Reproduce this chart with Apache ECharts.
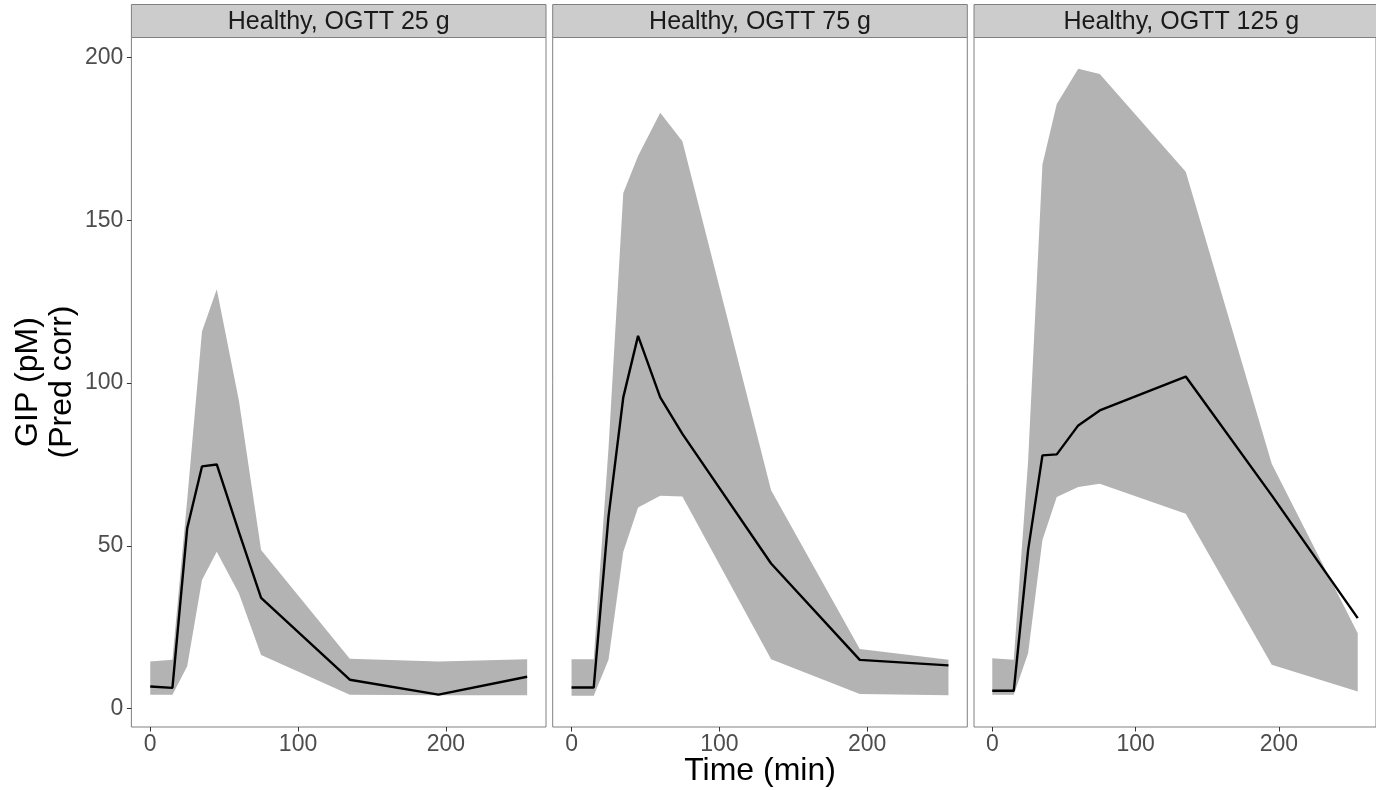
<!DOCTYPE html>
<html><head><meta charset="utf-8">
<script src="https://cdn.jsdelivr.net/npm/echarts@6/dist/echarts.min.js"></script>
<style>html,body{margin:0;padding:0;background:#fff}#chart{width:1376px;height:790px}</style>
</head><body><div id="chart"></div>
<script>
// ---- data ----
const times = [0, 15, 25, 35, 45, 60, 75, 135, 195, 255];
const panelTitles = ['Healthy, OGTT 25 g', 'Healthy, OGTT 75 g', 'Healthy, OGTT 125 g'];

const lower25  = [4.3, 4.3, 13.0, 39.5, 48.2, 35.4, 16.5, 4.3, 4.1, 4.1];
const median25 = [6.8, 6.4, 55.4, 74.4, 75.0, 54.2, 34.0, 8.9, 4.3, 9.8];
const upper25  = [14.5, 15.0, 64.2, 115.8, 128.8, 94.6, 48.7, 15.3, 14.5, 15.2];

const lower75  = [4.0, 4.0, 15.0, 48.2, 61.8, 65.4, 65.2, 15.2, 4.5, 4.1];
const median75 = [6.5, 6.5, 59.0, 95.6, 114.5, 95.6, 84.4, 44.6, 15.0, 13.3];
const upper75  = [15.2, 15.2, 80.0, 158.4, 169.7, 183.0, 174.3, 67.1, 18.3, 15.0];

const lower125  = [4.3, 4.3, 17.0, 51.8, 65.0, 68.1, 69.1, 59.9, 13.5, 5.3];
const median125 = [5.5, 5.5, 48.7, 77.8, 78.1, 87.0, 91.6, 102.0, 65.5, 27.8];
const upper125  = [15.5, 15.0, 76.0, 167.1, 185.7, 196.5, 194.9, 164.9, 75.2, 23.2];

const xTicks = [0, 100, 200];
const yTicks = [0, 50, 100, 150, 200];
const xTitle = 'Time (min)';
const yTitle = 'GIP (pM)\n(Pred corr)';

// ---- layout ----
const FONT = 'Liberation Sans, Arial, sans-serif';
const panelLeft = [131.4, 552.7, 974.0];
const panelWidth = 414.6;
const panelTop = 37.5;
const panelHeight = 689.5;
const stripTop = 4.5;

const lowers = [lower25, lower75, lower125];
const medians = [median25, median75, median125];
const uppers = [upper25, upper75, upper125];

// ggplot-like 5% expansion
const yLo = Math.min(...lowers.flat()), yHi = Math.max(...uppers.flat());
const yPad = 0.05 * (yHi - yLo);
const xLo = Math.min(...times), xHi = Math.max(...times);
const xPad = 0.05 * (xHi - xLo);

const grids = [], xAxes = [], yAxes = [], series = [], graphics = [];
for (let p = 0; p < 3; p++) {
  grids.push({left: panelLeft[p], top: panelTop, width: panelWidth, height: panelHeight,
    show: true, borderColor: '#808080', borderWidth: 1, backgroundColor: '#fff', containLabel: false});
  xAxes.push({type: 'value', gridIndex: p, position: 'bottom', min: xLo - xPad, max: xHi + xPad,
    splitLine: {show: false}, axisLine: {show: false, onZero: false},
    axisTick: {show: true, inside: false, length: 4.5, lineStyle: {color: '#333'}, customValues: xTicks},
    axisLabel: {show: true, customValues: xTicks, margin: 6, color: '#4D4D4D', fontSize: 23, fontFamily: FONT}});
  yAxes.push({type: 'value', gridIndex: p, position: 'left', min: yLo - yPad, max: yHi + yPad,
    splitLine: {show: false}, axisLine: {show: false, onZero: false},
    axisTick: {show: p === 0, inside: false, length: 4.5, lineStyle: {color: '#333'}, customValues: yTicks},
    axisLabel: {show: p === 0, customValues: yTicks, margin: 8, color: '#4D4D4D', fontSize: 23, fontFamily: FONT}});
  const lo = lowers[p], hi = uppers[p];
  series.push({type: 'custom', xAxisIndex: p, yAxisIndex: p, silent: true, z: 1,
    data: times.map((t, i) => [t, lo[i], hi[i]]),
    encode: {x: 0, y: [1, 2]},
    renderItem: function (params, api) {
      if (params.dataIndex !== 0) return null;
      const pts = [];
      for (let i = 0; i < times.length; i++) pts.push(api.coord([times[i], hi[i]]));
      for (let i = times.length - 1; i >= 0; i--) pts.push(api.coord([times[i], lo[i]]));
      return {type: 'polygon', shape: {points: pts}, style: {fill: '#B3B3B3'}};
    }});
  series.push({type: 'line', xAxisIndex: p, yAxisIndex: p, silent: true, z: 3,
    data: times.map((t, i) => [t, medians[p][i]]),
    symbol: 'none', showSymbol: false,
    lineStyle: {color: '#000', width: 2.4}});
  graphics.push({type: 'rect', shape: {x: panelLeft[p], y: stripTop, width: panelWidth, height: panelTop - stripTop},
    style: {fill: '#CCCCCC', stroke: '#808080', lineWidth: 1}, silent: true});
  graphics.push({type: 'text', x: panelLeft[p] + panelWidth / 2, y: (stripTop + panelTop) / 2 + 1,
    style: {text: panelTitles[p], fill: '#1A1A1A', font: '25px ' + FONT, textAlign: 'center', textVerticalAlign: 'middle'}, silent: true});
}
graphics.push({type: 'text', x: (panelLeft[0] + panelLeft[2] + panelWidth) / 2, y: 771,
  style: {text: xTitle, fill: '#000', font: '32px ' + FONT, textAlign: 'center', textVerticalAlign: 'middle'}, silent: true});
graphics.push({type: 'text', x: 45, y: 382, rotation: Math.PI / 2,
  style: {text: yTitle, fill: '#000', font: '32px ' + FONT, lineHeight: 34, textAlign: 'center', textVerticalAlign: 'middle'}, silent: true});

const chart = echarts.init(document.getElementById('chart'), null, {renderer: 'canvas'});
chart.setOption({
  animation: false,
  backgroundColor: '#fff',
  grid: grids, xAxis: xAxes, yAxis: yAxes, series: series,
  graphic: graphics
});
</script>
</body></html>
